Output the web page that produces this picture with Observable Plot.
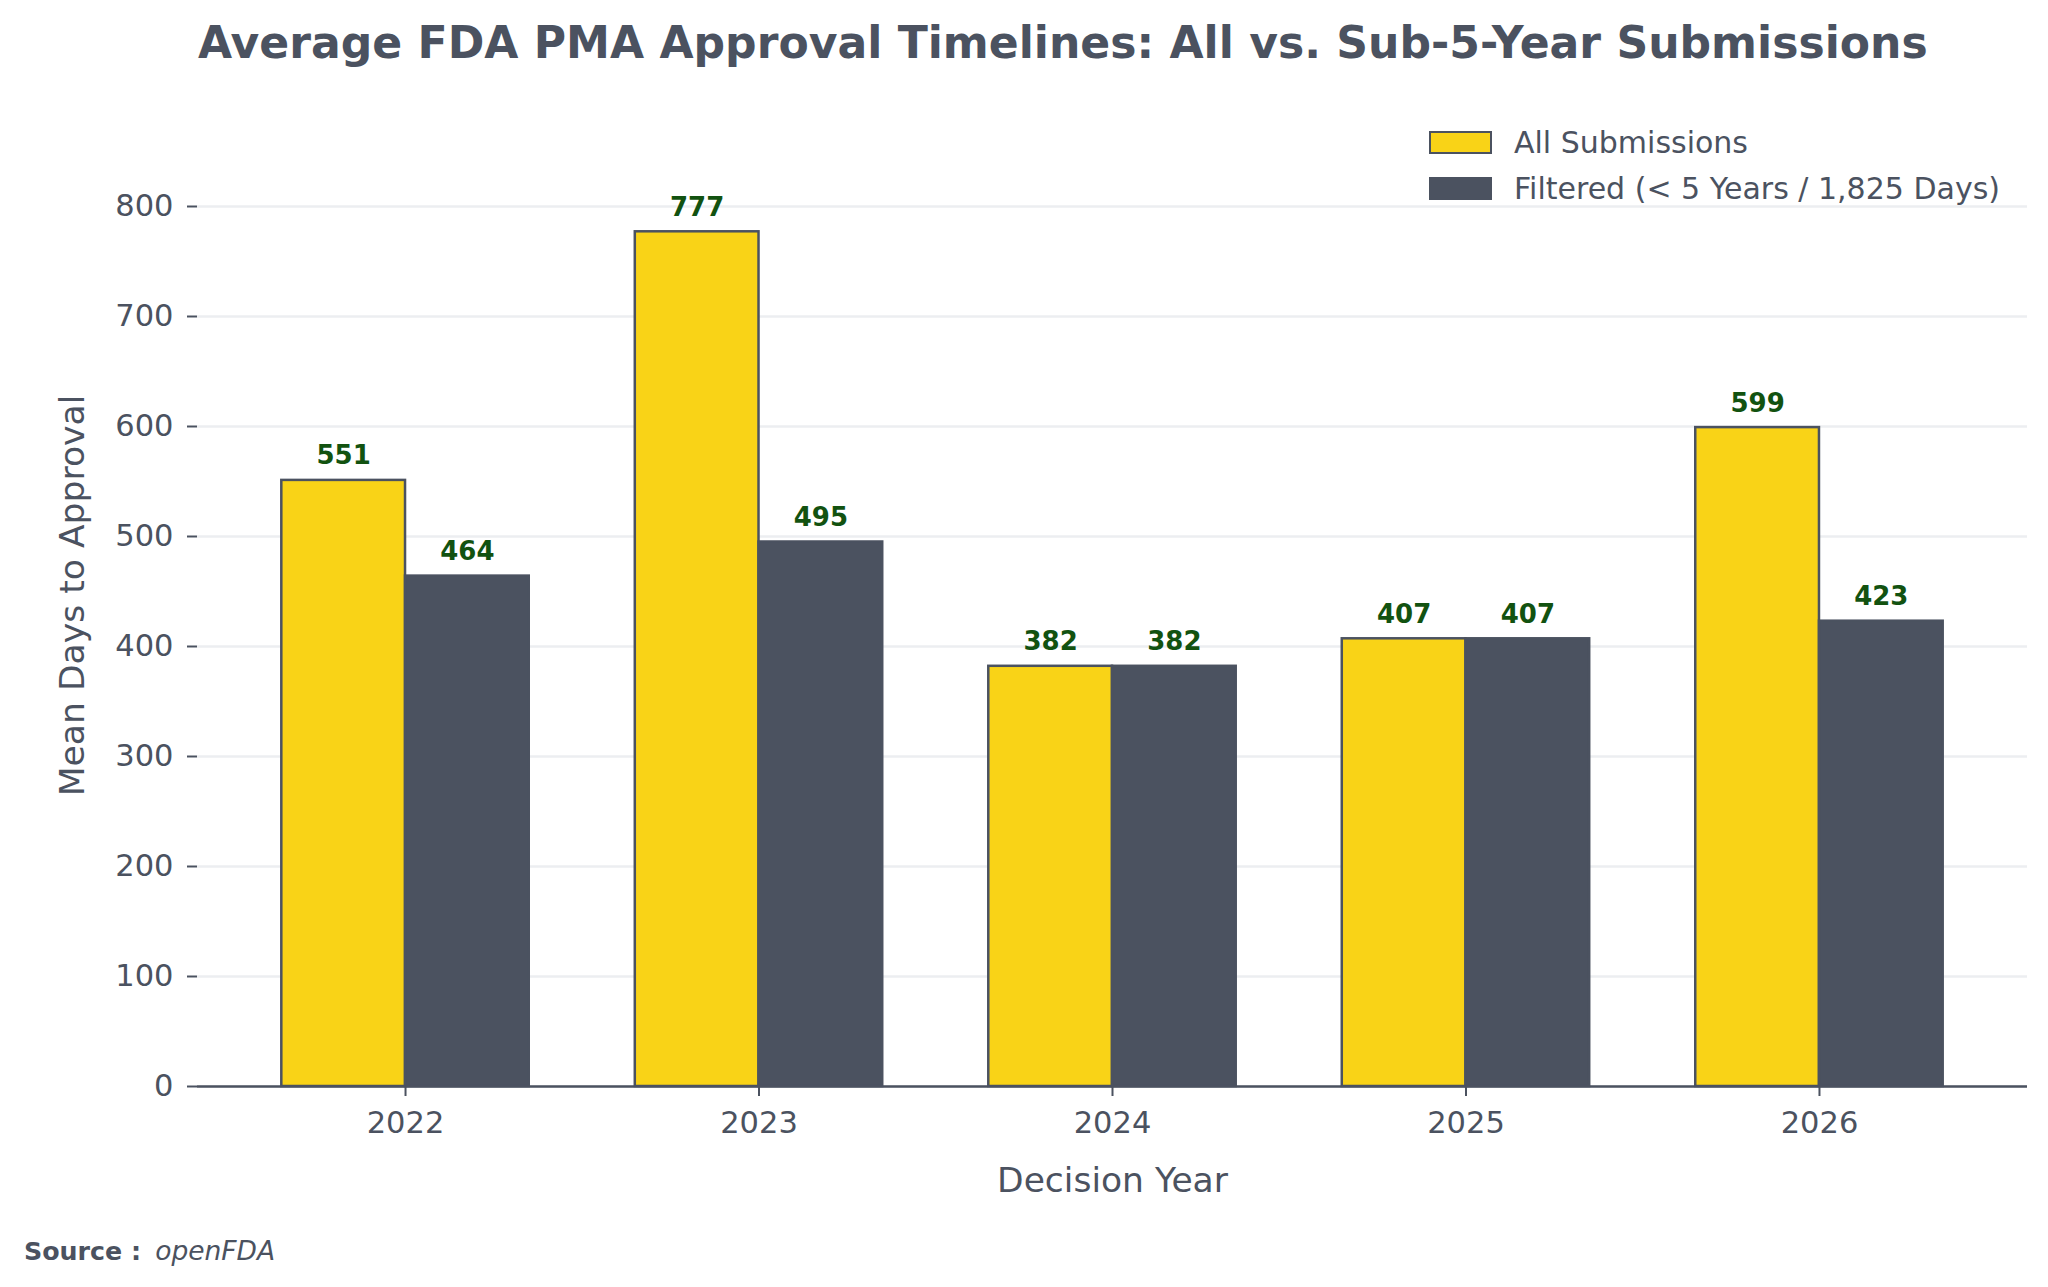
<!DOCTYPE html>
<html>
<head>
<meta charset="utf-8">
<script src="https://cdn.jsdelivr.net/npm/d3@7"></script>
<script src="https://cdn.jsdelivr.net/npm/@observablehq/plot@0.6"></script>
<style>
  html, body { margin: 0; padding: 0; background: #ffffff; }
  #wrap { position: relative; width: 2048px; height: 1287px; overflow: hidden; font-family: "DejaVu Sans", sans-serif; color: #4B5260; }
  #title { position: absolute; left: 198px; top: 21px; font-size: 44.1px; line-height: 44px; font-weight: bold; white-space: nowrap; color: #4B5260; }
  #chart { position: absolute; left: 0; top: 84px; }
  #legend { position: absolute; left: 1429px; top: 120px; }
  .lg-row { display: flex; align-items: center; height: 45.5px; }
  .lg-sw { width: 63px; height: 23px; box-sizing: border-box; margin-right: 22px; }
  .lg-tx { font-size: 30px; white-space: nowrap; color: #4B5260; }
  #source { position: absolute; left: 24px; top: 1238px; font-size: 25.3px; line-height: 26px; white-space: nowrap; color: #4B5260; }
  #source b { margin-right: 14px; }
  #source i { font-style: italic; font-size: 26.5px; }
</style>
</head>
<body>
<div id="wrap">
  <div id="title">Average FDA PMA Approval Timelines: All vs. Sub-5-Year Submissions</div>
  <div id="chart"></div>
  <div id="legend"></div>
  <div id="source"><b>Source :</b><i>openFDA</i></div>
</div>
<script>
// ---- Data ----
const years = ["2022", "2023", "2024", "2025", "2026"];
const allSubmissions = [551, 777, 382, 407, 599];
const filteredSubmissions = [464, 495, 382, 407, 423];
const seriesNames = ["All Submissions", "Filtered (< 5 Years / 1,825 Days)"];
const seriesColors = ["#F9D317", "#4B5260"];
const yTicks = [0, 100, 200, 300, 400, 500, 600, 700, 800];
const xLabel = "Decision Year";
const yLabel = "Mean Days to Approval";

const rowsAll = years.map((y, i) => ({year: y, series: seriesNames[0], value: allSubmissions[i]}));
const rowsFil = years.map((y, i) => ({year: y, series: seriesNames[1], value: filteredSubmissions[i]}));

// ---- Layout ----
const W = 2048, H = 1146;
const mL = 197, mR = 21, mT = 34, mB = 144;
const pInner = 0.3, pOuter = 0.2385;
const bw = d3.scaleBand().domain(years).range([mL, W - mR]).paddingInner(pInner).paddingOuter(pOuter).bandwidth();
const dark = "#4B5260";
const green = "#125210";

const chart = Plot.plot({
  width: W,
  height: H,
  marginLeft: mL,
  marginRight: mR,
  marginTop: mT,
  marginBottom: mB,
  style: {fontFamily: "DejaVu Sans, sans-serif", color: dark, background: "transparent"},
  x: {type: "band", domain: years, paddingInner: pInner, paddingOuter: pOuter, align: 0.5, round: false},
  y: {domain: [0, 880]},
  color: {domain: seriesNames, range: seriesColors},
  marks: [
    Plot.gridY(yTicks, {stroke: "#ECEEF1", strokeOpacity: 1, strokeWidth: 2.5}),
    Plot.barY(rowsAll, {x: "year", y: "value", fill: "series", stroke: dark, strokeWidth: 2.5, insetRight: bw / 2}),
    Plot.barY(rowsFil, {x: "year", y: "value", fill: "series", stroke: dark, strokeWidth: 2.5, insetLeft: bw / 2}),
    Plot.ruleY([0], {stroke: dark, strokeWidth: 2.5}),
    Plot.axisY({ticks: yTicks, tickSize: 10, tickPadding: 14, fontSize: 30.5, stroke: dark, strokeWidth: 2, label: null, tickFormat: d => String(d)}),
    Plot.axisX({tickSize: 10, tickPadding: 15, fontSize: 30.5, stroke: dark, strokeWidth: 2, label: null}),
    Plot.text(rowsAll, {x: "year", y: "value", text: d => String(d.value), dx: -bw / 4, dy: -16, lineAnchor: "bottom", fontSize: 26, fontWeight: "bold", fill: green}),
    Plot.text(rowsFil, {x: "year", y: "value", text: d => String(d.value), dx: bw / 4, dy: -16, lineAnchor: "bottom", fontSize: 26, fontWeight: "bold", fill: green}),
    Plot.text([xLabel], {frameAnchor: "bottom", dy: 105, lineAnchor: "bottom", fontSize: 34.5, fill: dark}),
    Plot.text([yLabel], {frameAnchor: "left", textAnchor: "middle", rotate: -90, dx: -125, dy: -7, fontSize: 34.6, fill: dark})
  ]
});
document.getElementById("chart").appendChild(chart);

// ---- Legend from the plot's color scale ----
const color = chart.scale("color");
const legend = document.getElementById("legend");
color.domain.forEach((name, i) => {
  const row = document.createElement("div");
  row.className = "lg-row";
  const sw = document.createElement("div");
  sw.className = "lg-sw";
  sw.style.background = color.range[i];
  if (i === 0) sw.style.border = "2.5px solid " + dark;
  const tx = document.createElement("div");
  tx.className = "lg-tx";
  tx.textContent = name;
  row.appendChild(sw);
  row.appendChild(tx);
  legend.appendChild(row);
});
</script>
</body>
</html>
